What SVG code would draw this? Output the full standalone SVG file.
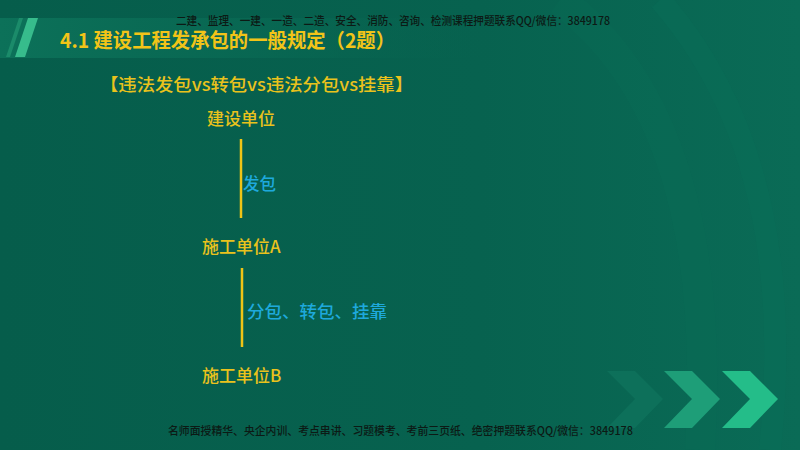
<svg xmlns="http://www.w3.org/2000/svg" width="800" height="450" viewBox="0 0 800 450">
  <defs>
    <linearGradient id="bg" x1="0" y1="0" x2="1" y2="0">
      <stop offset="0" stop-color="#065d4b"/>
      <stop offset="0.6" stop-color="#07624f"/>
      <stop offset="1" stop-color="#0a6b56"/>
    </linearGradient>
    <linearGradient id="band" x1="0" y1="0" x2="1" y2="0">
      <stop offset="0" stop-color="#0c7159"/>
      <stop offset="0.5" stop-color="#096a54" stop-opacity="0.7"/>
      <stop offset="1" stop-color="#07624f" stop-opacity="0"/>
    </linearGradient>
    <style>
      .wm { font-family: "Noto Sans CJK SC", "Liberation Sans", sans-serif; font-size: 11px; font-weight: 500; fill: #0c1a15; }
      .title { font-family: "Noto Sans CJK SC", "Liberation Sans", sans-serif; font-size: 20px; font-weight: bold; fill: #f2c418; }
      .node { font-family: "Noto Sans CJK SC", "Liberation Sans", sans-serif; font-size: 17px; font-weight: 500; fill: #eac21c; }
      .lbl { font-family: "Noto Sans CJK SC", "Liberation Sans", sans-serif; font-size: 16.5px; font-weight: 500; fill: #1ea9dc; }
      .conn { stroke: #efc416; stroke-width: 2.5; fill: none; }
    </style>
  </defs>

  <!-- background -->
  <rect width="800" height="450" fill="url(#bg)"/>
  <path d="M560 0 Q720 120 700 450" stroke="#0a6d57" stroke-width="30" fill="none" opacity="0.3"/>
  <path d="M660 0 Q800 160 770 450" stroke="#0b7059" stroke-width="22" fill="none" opacity="0.3"/>

  <!-- header band -->
  <rect x="0" y="18" width="520" height="40" fill="url(#band)"/>
  <polygon points="28,18 38,18 25,57 15,57" fill="#3fc995" opacity="0.85"/>
  <polygon points="19,18 23,18 10,57 6,57" fill="#2aa67c" opacity="0.5"/>

  <!-- chevrons -->
  <polygon points="607,371 635,371 663,399 635,428 607,428 635,399" fill="#117a61" opacity="0.5"/>
  <polygon points="664,371 692,371 720,399 692,428 664,428 692,399" fill="#1e9e78"/>
  <polygon points="722,371 750,371 778,399 750,428 722,428 750,399" fill="#24bd89"/>

  <!-- watermarks -->
  <text class="wm" x="176" y="25" textLength="434" lengthAdjust="spacingAndGlyphs">二建、监理、一建、一造、二造、安全、消防、咨询、检测课程押题联系QQ/微信：3849178</text>
  <text class="wm" x="168" y="435" textLength="465" lengthAdjust="spacingAndGlyphs">名师面授精华、央企内训、考点串讲、习题模考、考前三页纸、绝密押题联系QQ/微信：3849178</text>

  <!-- title -->
  <text class="title" x="60" y="48" textLength="335" lengthAdjust="spacingAndGlyphs">4.1 建设工程发承包的一般规定（2题）</text>
  <text class="node" x="100" y="91" textLength="313" lengthAdjust="spacingAndGlyphs">【违法发包vs转包vs违法分包vs挂靠】</text>

  <!-- connectors -->
  <g id="connectors">
    <line class="conn" x1="241" y1="139" x2="241" y2="218"/>
    <line class="conn" x1="242" y1="268" x2="242" y2="347"/>
    <text class="lbl" x="243" y="190">发包</text>
    <text class="lbl" x="247" y="318" textLength="140" lengthAdjust="spacingAndGlyphs">分包、转包、挂靠</text>
  </g>

  <!-- nodes -->
  <g id="node-jianshe">
    <text class="node" x="207" y="125">建设单位</text>
  </g>
  <g id="node-shigongA">
    <text class="node" x="202" y="253">施工单位A</text>
  </g>
  <g id="node-shigongB">
    <text class="node" x="202" y="382">施工单位B</text>
  </g>
</svg>
